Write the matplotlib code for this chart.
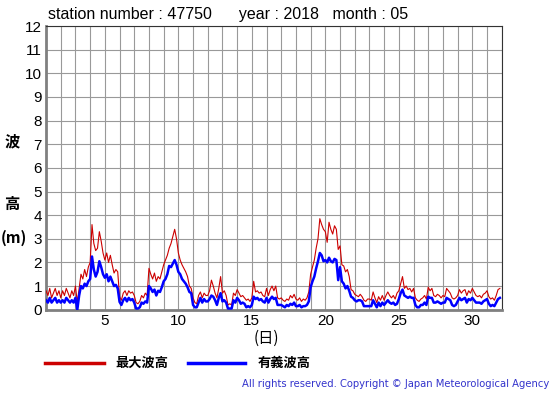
import numpy as np
import matplotlib
matplotlib.use("Agg")
import matplotlib.pyplot as plt

# 3-hourly values, 8 per day, days 1..31
max_wave = [
    0.8,0.6,0.9,0.5,0.7,0.9,0.6,0.8,
    0.5,0.8,0.6,0.9,0.7,0.5,0.8,0.6,
    1.0,0.3,0.9,1.5,1.3,1.7,1.4,1.8,
    2.0,3.6,2.8,2.5,2.6,3.3,2.9,2.4,
    2.1,2.4,2.0,2.3,1.9,1.55,1.7,1.6,
    0.55,0.4,0.7,0.8,0.6,0.8,0.7,0.75,
    0.6,0.3,0.25,0.35,0.6,0.5,0.7,0.6,
    1.75,1.5,1.3,1.55,1.2,1.4,1.3,1.6,
    1.9,2.1,2.3,2.6,2.8,3.1,3.4,3.0,
    2.4,2.1,1.9,1.75,1.6,1.4,1.0,0.9,
    0.5,0.3,0.25,0.6,0.75,0.5,0.7,0.6,
    0.6,0.8,1.25,1.0,0.7,0.5,0.9,1.4,
    0.7,0.8,0.6,0.2,0.25,0.2,0.7,0.6,
    0.85,0.7,0.55,0.6,0.5,0.4,0.45,0.35,
    0.5,1.2,0.75,0.8,0.7,0.75,0.6,0.55,
    0.9,0.6,0.85,1.0,0.8,1.0,0.5,0.45,
    0.5,0.4,0.35,0.45,0.4,0.6,0.5,0.65,
    0.45,0.4,0.5,0.35,0.45,0.4,0.5,0.75,
    1.5,1.8,2.1,2.6,3.0,3.85,3.6,3.4,
    3.3,2.85,3.7,3.4,3.2,3.55,3.4,2.55,
    2.7,1.9,1.85,1.6,1.7,1.4,0.85,0.8,
    0.65,0.6,0.55,0.65,0.55,0.4,0.35,0.45,
    0.45,0.4,0.75,0.5,0.3,0.55,0.4,0.6,
    0.4,0.6,0.75,0.6,0.5,0.6,0.45,0.7,
    0.8,1.1,1.4,0.9,1.0,0.85,0.9,0.75,
    0.9,0.5,0.4,0.35,0.45,0.5,0.6,0.45,
    0.95,0.8,0.9,0.6,0.55,0.65,0.6,0.5,
    0.6,0.55,0.9,0.8,0.7,0.5,0.45,0.5,
    0.6,0.85,0.7,0.8,0.85,0.6,0.8,0.7,
    0.9,0.75,0.6,0.55,0.6,0.5,0.65,0.7,
    0.8,0.55,0.45,0.5,0.4,0.6,0.85,0.9,
]
sig_wave = [
    0.4,0.3,0.5,0.3,0.4,0.5,0.3,0.4,
    0.3,0.4,0.3,0.5,0.4,0.3,0.4,0.3,
    0.5,0.0,0.6,1.0,0.9,1.1,1.0,1.2,
    1.3,2.25,1.7,1.4,1.6,2.05,1.8,1.5,
    1.35,1.5,1.2,1.4,1.2,1.0,1.05,0.9,
    0.33,0.2,0.4,0.5,0.35,0.5,0.4,0.45,
    0.3,0.05,0.05,0.1,0.3,0.25,0.35,0.3,
    1.0,0.9,0.75,0.85,0.6,0.8,0.75,0.95,
    1.2,1.3,1.5,1.85,1.8,1.95,2.1,1.9,
    1.6,1.5,1.3,1.2,1.1,0.95,0.75,0.7,
    0.2,0.1,0.1,0.3,0.5,0.3,0.45,0.35,
    0.35,0.45,0.6,0.55,0.4,0.2,0.5,0.7,
    0.35,0.4,0.3,0.05,0.05,0.05,0.4,0.3,
    0.5,0.4,0.25,0.3,0.25,0.1,0.15,0.1,
    0.2,0.55,0.45,0.5,0.4,0.45,0.35,0.3,
    0.5,0.3,0.45,0.55,0.45,0.5,0.2,0.2,
    0.2,0.15,0.1,0.2,0.15,0.25,0.2,0.3,
    0.15,0.15,0.2,0.1,0.15,0.15,0.2,0.35,
    0.95,1.2,1.4,1.75,2.05,2.4,2.3,2.05,
    2.1,2.0,2.2,2.05,2.0,2.15,2.1,1.25,
    1.8,1.2,1.1,0.9,1.0,0.8,0.55,0.5,
    0.4,0.35,0.4,0.4,0.35,0.15,0.15,0.15,
    0.15,0.15,0.4,0.25,0.1,0.3,0.15,0.3,
    0.2,0.3,0.4,0.3,0.25,0.3,0.2,0.25,
    0.45,0.7,0.85,0.6,0.55,0.5,0.55,0.5,
    0.5,0.2,0.1,0.1,0.2,0.2,0.3,0.2,
    0.55,0.5,0.5,0.3,0.3,0.35,0.3,0.25,
    0.3,0.3,0.5,0.45,0.4,0.2,0.15,0.2,
    0.35,0.5,0.4,0.45,0.5,0.3,0.45,0.4,
    0.5,0.4,0.3,0.3,0.3,0.25,0.35,0.4,
    0.45,0.25,0.15,0.2,0.15,0.3,0.45,0.5,
]
x_ticks = [5, 10, 15, 20, 25, 30]
y_ticks = list(range(0, 13))
title_text = "station number : 47750      year : 2018   month : 05"
legend_labels = ["最大波高", "有義波高"]

plt.rcParams['font.family'] = ['Liberation Sans', 'DejaVu Sans']
cjk = ['Noto Sans CJK JP', 'DejaVu Sans']

fig = plt.figure(figsize=(5.55, 3.95), dpi=100)
ax = fig.add_axes([0.083, 0.216, 0.821, 0.718])

t = 1 + np.arange(len(max_wave)) / 8.0
ax.plot(t, max_wave, color='#cc0000', lw=0.8, zorder=3)
ax.plot(t, sig_wave, color='#0000ff', lw=1.8, zorder=4)

ax.set_xlim(1, 32)
ax.set_ylim(0, 12)
ax.set_xticks(np.arange(1, 33), minor=True)
ax.set_xticks(x_ticks)
ax.set_yticks(y_ticks)
ax.grid(True, which='both', color='#999999', lw=0.8, zorder=1)
ax.tick_params(which='both', length=0, labelsize=11, pad=3)
for s in ['top', 'right']:
    ax.spines[s].set_color('#333333')
    ax.spines[s].set_linewidth(0.8)
for s in ['left', 'bottom']:
    ax.spines[s].set_color('#808080')
    ax.spines[s].set_linewidth(2)

fig.text(48/555, 1 - 15/395, title_text, fontsize=11.5, va='center', ha='left')

fig.text(12/555, 1 - 141/395, "波", family=cjk, fontsize=11, fontweight='bold', ha='center', va='center')
fig.text(12/555, 1 - 204/395, "高", family=cjk, fontsize=11, fontweight='bold', ha='center', va='center')
fig.text(14/555, 1 - 238/395, "(m)", family=cjk, fontsize=11, fontweight='bold', ha='center', va='center')

fig.text(266/555, 1 - 338/395, "(日)", family=cjk, fontsize=11, ha='center', va='center')

fig.add_artist(plt.Line2D([45/555, 104/555], [1 - 363/395] * 2, color='#cc0000', lw=2.5))
fig.text(115/555, 1 - 363/395, legend_labels[0], family=cjk, fontsize=9.5, fontweight='bold', va='center')
fig.add_artist(plt.Line2D([188/555, 245/555], [1 - 363/395] * 2, color='#0000ff', lw=2.5))
fig.text(258/555, 1 - 363/395, legend_labels[1], family=cjk, fontsize=9.5, fontweight='bold', va='center')

fig.text(549/555, 1 - 384/395, "All rights reserved. Copyright © Japan Meteorological Agency",
         fontsize=7.2, family='DejaVu Sans', color='#3333cc', ha='right', va='center')

fig.savefig("out.png", dpi=100)
